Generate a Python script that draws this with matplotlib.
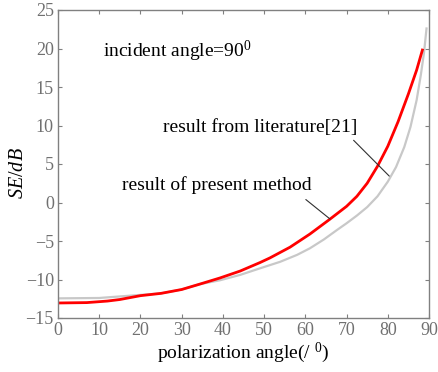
import matplotlib
matplotlib.use('Agg')
import matplotlib.pyplot as plt

# polarization angle (deg) and SE (dB)
angle_present = [0, 7, 12, 15, 20, 25, 30, 34.4, 39.3, 44.2, 49, 51.4, 56.3, 61.1, 66,
                 70, 72.5, 75, 77.5, 80, 82.5, 85, 87, 88.4]
se_present = [-13.05, -13.0, -12.8, -12.6, -12.1, -11.8, -11.3, -10.6, -9.8, -8.9, -7.8, -7.2, -5.8, -4.1, -2.15,
              -0.5, 0.8, 2.5, 4.7, 7.3, 10.5, 14.1, 17.2, 19.8]

angle_lit = [0, 10, 20, 25, 30, 34.4, 39.3, 44.2, 49, 53.9, 58, 61.1, 64.5, 67.6, 70,
             72.5, 75, 77.5, 80, 82, 84, 85.5, 87, 88, 88.8, 89.4]
se_lit = [-12.45, -12.4, -12.0, -11.8, -11.3, -10.6, -10.1, -9.4, -8.55, -7.7, -6.8, -5.95, -4.8, -3.6, -2.7,
          -1.7, -0.6, 0.8, 2.7, 4.6, 7.2, 9.8, 13.3, 16.5, 19.5, 22.6]

xticks = list(range(0, 91, 10))
yticks = list(range(-15, 26, 5))

plt.rcParams['font.family'] = ['Liberation Serif', 'DejaVu Serif']
plt.rcParams['mathtext.fontset'] = 'custom'
plt.rcParams['mathtext.rm'] = 'Liberation Serif'
plt.rcParams['mathtext.it'] = 'Liberation Serif:italic'

fig = plt.figure(figsize=(4.39, 3.72), dpi=100)
ax = fig.add_axes([58/439, 1 - 318/372, (429-58)/439, (318-10)/372])

ax.plot(angle_lit, se_lit, color='#c8c8c8', lw=1.6)
ax.plot(angle_present, se_present, color='#ff0000', lw=2.0)

ax.set_xlim(0, 90)
ax.set_ylim(-15, 25)
ax.set_xticks(xticks)
ax.set_yticks(yticks)
ax.tick_params(direction='in', top=True, right=True, length=3, colors='#808080',
               labelsize=13, labelcolor='#707070', width=0.8, pad=3)
for s in ax.spines.values():
    s.set_color('#808080')
    s.set_linewidth(1.0)

ax.set_xlabel('polarization angle(/ $^0$)', fontsize=14, labelpad=1)
ax.set_ylabel('$SE/dB$', fontsize=14.5)
ax.yaxis.set_label_coords(-0.081, 0.47)

ax.text(10.9, 18.9, 'incident angle=90$^0$', fontsize=14)
ax.annotate('result from literature[21]', xy=(80.6, 3.3), xytext=(25.5, 9.15),
            fontsize=14, arrowprops=dict(arrowstyle='-', color='#303030', lw=0.8,
                                         shrinkA=0, shrinkB=1, relpos=(0.98, -0.25)))
ax.annotate('result of present method', xy=(66, -2.15), xytext=(15.5, 1.6),
            fontsize=14, arrowprops=dict(arrowstyle='-', color='#303030', lw=0.8,
                                         shrinkA=0, shrinkB=0, relpos=(0.97, -0.3)))

fig.savefig('out.png', dpi=100)
